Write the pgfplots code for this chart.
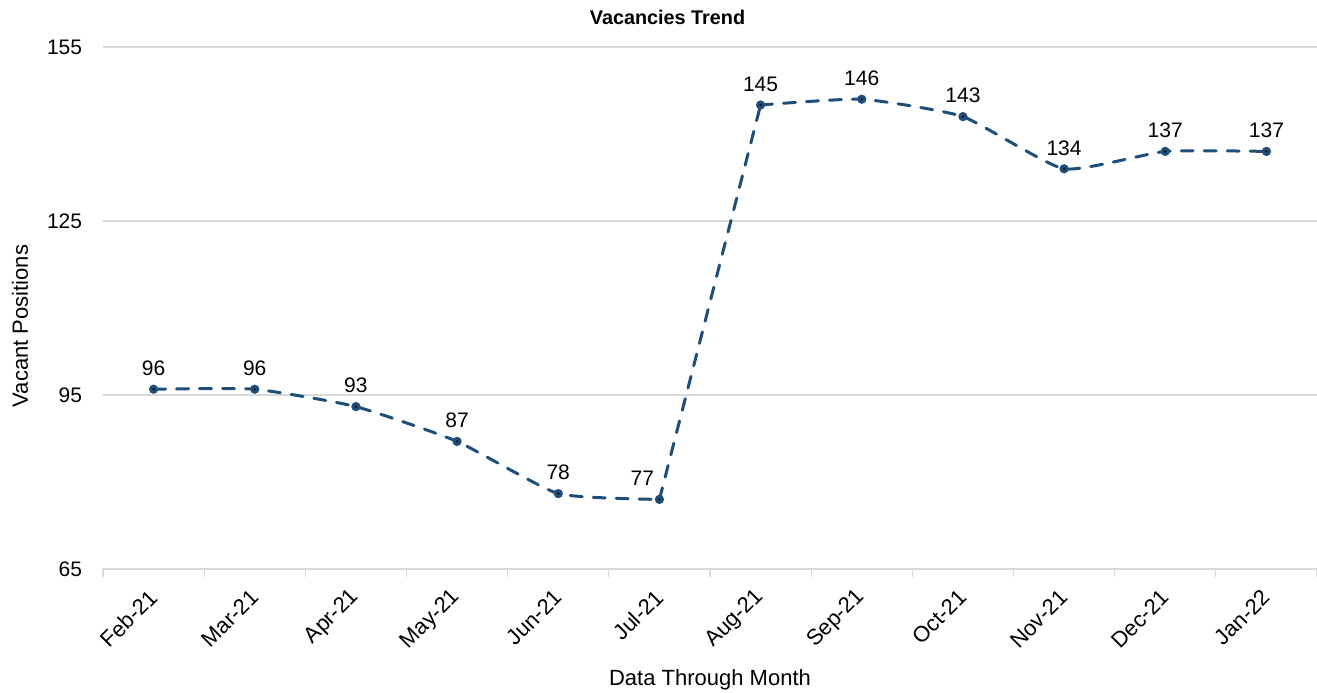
\documentclass[border=0pt]{standalone}
\usepackage{pgfplots}
\usepackage{pgfplotstable}
\pgfplotsset{compat=1.18}
\usepackage{fontspec}
\setmainfont{Liberation Sans}
\definecolor{lineblue}{RGB}{31,78,121}
\definecolor{gridgrey}{RGB}{217,217,217}
\pgfdeclareplotmark{ringdot}{%
  \pgfpathcircle{\pgfpointorigin}{\pgfplotmarksize}%
  \pgfusepathqfillstroke
  \pgfscope
  \pgfsetfillcolor{black}%
  \pgfpathcircle{\pgfpointorigin}{0.6pt}%
  \pgfusepathqfill
  \endpgfscope
}
\pgfplotstableread{
x y dx
0 96 0
1 96 0
2 93 0
3 87 0
4 78 0
5 77 -8.5
6 145 0
7 146 0
8 143 0
9 134 0
10 137 0
11 137 0
}\datatable
\newcommand{\chartfont}{\fontsize{10.5}{12.6}\selectfont}
\newcommand{\labelfont}{\fontsize{11}{13.2}\selectfont}
\begin{document}
\begin{tikzpicture}
\begin{axis}[
  at={(0,0)}, anchor=south west,
  scale only axis, width=607pt, height=261pt,
  xmin=-0.5, xmax=11.5, ymin=65, ymax=155,
  clip=false,
  /pgf/number format/assume math mode=true,
  axis line style={draw=none},
  ytick={65,95,125,155},
  ymajorgrids, grid style={gridgrey, line width=0.6pt},
  ytick style={draw=none},
  xtick={0,...,11},
  xticklabels={Feb-21,Mar-21,Apr-21,May-21,Jun-21,Jul-21,Aug-21,Sep-21,Oct-21,Nov-21,Dec-21,Jan-22},
  minor xtick={-0.5,0.5,...,11.5},
  major x tick style={draw=none},
  minor x tick style={gridgrey, line width=0.6pt},
  minor tick length=4pt,
  tick align=outside,
  xtick pos=bottom,
  yticklabel style={font=\chartfont, anchor=east, inner sep=0pt, xshift=-6pt},
  xticklabel style={font=\labelfont, inner sep=0pt, anchor=east, xshift=0pt, yshift=-8pt, rotate=45},
  xlabel={Data Through Month},
  ylabel={Vacant Positions},
  xlabel style={font=\labelfont, at={(axis description cs:0.5,0)}, anchor=center, yshift=-55.5pt},
  ylabel style={font=\labelfont, at={(axis description cs:-0.0684,0.4655)}, anchor=center},
  linestyle/.style={lineblue, line width=1.5pt, line cap=round, dash pattern=on 6pt off 5.5pt, mark=none},
]
\addplot[linestyle, smooth, tension=0.3, skip coords between index={6}{12}]
  table[x=x, y=y]{\datatable};
\addplot[linestyle, sharp plot, skip coords between index={0}{5}, skip coords between index={7}{12}]
  table[x=x, y=y]{\datatable};
\addplot[linestyle, smooth, tension=0.3, skip coords between index={0}{6}]
  table[x=x, y=y]{\datatable};
\addplot[only marks,
  mark=ringdot, mark size=2pt,
  mark options={solid, draw=lineblue, fill=lineblue, line width=0.6pt},
  nodes near coords, point meta=explicit,
  visualization depends on={\thisrow{dx} \as \dx},
  every node near coord/.append style={font=\chartfont, text=black, anchor=south, inner sep=0pt, yshift=6.5pt, xshift=\dx pt}]
  table[x=x, y=y, meta=y]{\datatable};
\node[font=\bfseries\fontsize{9.9}{11.8}\selectfont, anchor=center] at (axis description cs:0.465,1) [yshift=15pt] {Vacancies Trend};
\end{axis}
\pgfresetboundingbox
\useasboundingbox (-51.5pt,-61.5pt) rectangle (607pt,284.5pt);
\end{tikzpicture}
\end{document}
